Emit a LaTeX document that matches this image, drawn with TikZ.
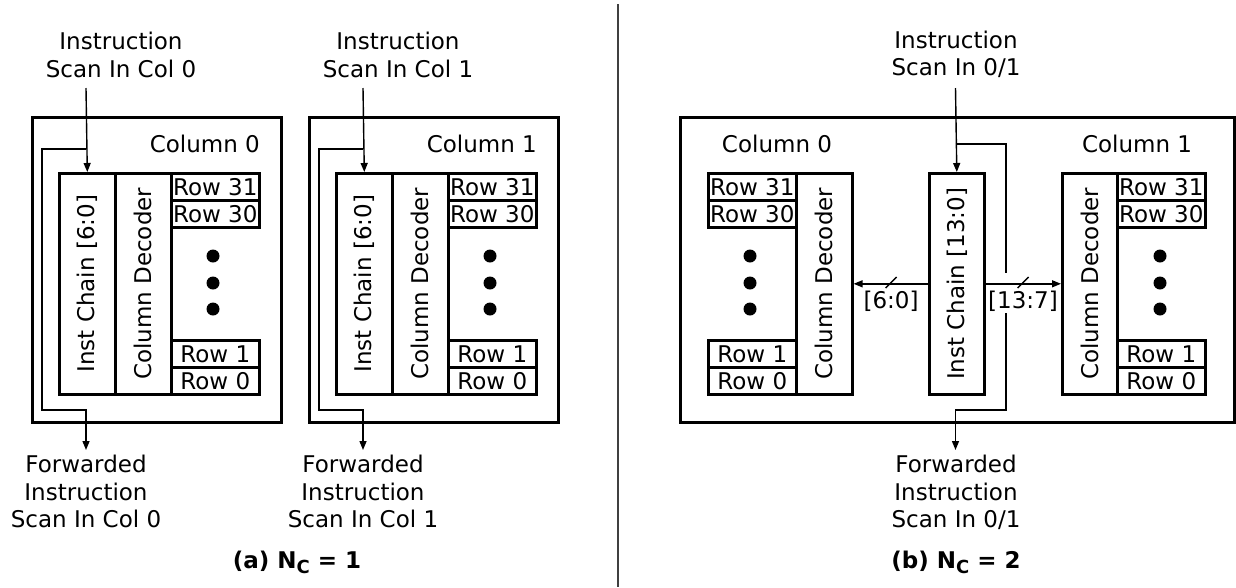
\documentclass[tikz,border=0pt]{standalone}
\usepackage{fontspec}
\setmainfont{DejaVu Sans}
\usetikzlibrary{arrows.meta}
\begin{document}
\begin{tikzpicture}[x=1pt,y=-1pt,
  font=\fontsize{23}{27.5}\selectfont,
  frame/.style={draw, line width=2.8pt, inner sep=0pt, anchor=north west},
  blk/.style={draw, line width=2.6pt, inner sep=0pt, anchor=north west},
  tall/.style={blk, minimum width=56pt, minimum height=221pt},
  rowbox/.style={blk, minimum width=88pt, minimum height=27pt},
  sig/.style={line width=1.4pt},
  tip/.style={-{Triangle[length=9pt,width=7pt]}},
  txt/.style={inner sep=0pt, align=center},
  subcap/.style={inner sep=0pt, anchor=base, font=\fontsize{23}{27.5}\selectfont\bfseries}]
\useasboundingbox (0,0) rectangle (1236,587);

% separator between the two variants
\draw[line width=1.5pt, black!75] (618,4) -- (618,587);

% ---------- (a): one column per instruction chain ----------
\foreach \i/\d in {0/0,1/277}{
  \node[frame, minimum width=249pt, minimum height=305pt] (colA\i) at (31+\d,116) {};
  \node[txt, anchor=base east] (colAlbl\i) at (260+\d,152) {Column \i};
  \node[tall, label={[rotate=90]center:{Inst Chain [6:0]}}] (icA\i) at (58+\d,172) {};
  \node[tall, label={[rotate=90]center:{Column Decoder}}] (cdA\i) at (114+\d,172) {};
  \node[rowbox] (rA\i-31) at (170+\d,172) {Row 31};
  \node[rowbox] (rA\i-30) at (170+\d,199) {Row 30};
  \node[rowbox] (rA\i-1) at (170+\d,339) {Row 1};
  \node[rowbox] (rA\i-0) at (170+\d,366) {Row 0};
  \foreach \yy in {256,283,309} \fill (213+\d,\yy) circle (6.5);
  % scan-in path and its forwarded copy
  \node[txt, anchor=south] (inA\i) at (121+\d,78) {Instruction\\Scan In Col \i};
  \coordinate (srcA\i) at (86+\d,88);
  \coordinate (jA\i) at (86+\d,149);
  \coordinate (dstA\i) at (86+\d,450);
  \draw[sig,tip] (srcA\i) -- (icA\i.north);
  \draw[sig,tip] (jA\i) -- (42+\d,149) -- (42+\d,410) -- (86+\d,410) -- (dstA\i);
  \node[txt, anchor=north] (outA\i) at (86+\d,455) {Forwarded\\Instruction\\Scan In Col \i};
}
\node[subcap] (capA) at (297,568) {(a) N\raisebox{-5pt}{\fontsize{18}{18}\selectfont C} = 1};

% ---------- (b): two columns share one instruction chain ----------
\node[frame, minimum width=554pt, minimum height=305pt] (colB) at (679,116) {};
\node[txt, anchor=base] (colBlbl0) at (777,152) {Column 0};
\node[txt, anchor=base] (colBlbl1) at (1137,152) {Column 1};

% column 0 (rows on the left of its decoder)
\node[rowbox] (rB0-31) at (707,172) {Row 31};
\node[rowbox] (rB0-30) at (707,199) {Row 30};
\node[rowbox] (rB0-1) at (707,339) {Row 1};
\node[rowbox] (rB0-0) at (707,366) {Row 0};
\foreach \yy in {256,283,309} \fill (750,\yy) circle (6.5);
\node[tall, label={[rotate=90]center:{Column Decoder}}] (cdB0) at (795,172) {};

% shared instruction chain
\node[tall, minimum width=55pt, label={[rotate=90]center:{Inst Chain [13:0]}}] (icB) at (928,172) {};

% column 1 (rows on the right of its decoder)
\node[tall, minimum width=55pt, label={[rotate=90]center:{Column Decoder}}] (cdB1) at (1061,172) {};
\node[rowbox] (rB1-31) at (1116,172) {Row 31};
\node[rowbox] (rB1-30) at (1116,199) {Row 30};
\node[rowbox] (rB1-1) at (1116,339) {Row 1};
\node[rowbox] (rB1-0) at (1116,366) {Row 0};
\foreach \yy in {256,283,309} \fill (1160,\yy) circle (6.5);

% scan-in path and forwarded copy
\node[txt, anchor=south] (inB) at (956,78) {Instruction\\Scan In 0/1};
\coordinate (srcB) at (955.5,88);
\coordinate (jB) at (955.5,144);
\coordinate (dstB) at (955.5,450);
\draw[sig,tip] (srcB) -- (icB.north);
\draw[sig,tip] (jB) -- (1006,144) -- (1006,410) -- (955.5,410) -- (dstB);
\node[txt, anchor=north] (outB) at (956,455) {Forwarded\\Instruction\\Scan In 0/1};

% bus from the chain to each decoder
\fill[white] (1000,273) rectangle (1012,292);
\node[txt, fill=white, inner xsep=1pt, inner ysep=2pt] (busB0) at (891,301) {[6:0]};
\node[txt, fill=white, inner xsep=1pt, inner ysep=2pt] (busB1) at (1023,301) {[13:7]};
\draw[sig,tip] (icB.west) -- (cdB0.east);
\draw[sig,tip] (icB.east) -- (cdB1.west);
\draw[sig] (885.5,288) -- (896.5,277);
\draw[sig] (1017.5,288) -- (1028.5,277);

\node[subcap] (capB) at (956,568) {(b) N\raisebox{-5pt}{\fontsize{18}{18}\selectfont C} = 2};
\end{tikzpicture}
\end{document}
